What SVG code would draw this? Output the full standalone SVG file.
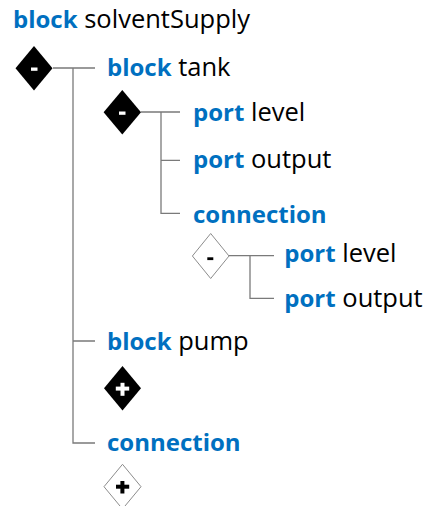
<svg xmlns="http://www.w3.org/2000/svg" width="425" height="506" viewBox="0 0 425 506">
<style>
text{font-family:"Open Sans","Liberation Sans",sans-serif;font-size:25.5px;fill:#000}
.k{fill:#0070C0;font-weight:bold;font-size:24px}
.ln{stroke:#7a7a7a;stroke-width:1.3;fill:none}
.df{fill:#000}
.do{fill:#fff;stroke:#8c8c8c;stroke-width:1}
.w{fill:#fff}
.b{fill:#000}
</style>
<rect width="425" height="506" fill="#fff"/>
<g id="connectors">
<path class="ln" d="M53 68H95M73 68V443H95M73 341H95"/>
<path class="ln" d="M141 112H180M161 112V213.3H180M161 160.3H180"/>
<path class="ln" d="M229 255.7H274M250 255.7V298.3H274"/>
</g>
<g id="solventSupply"><text x="13" y="28"><tspan class="k">block</tspan> solventSupply</text></g>
<g id="toggle1"><path class="df" d="M34 46L52.5 68.3L34 90.6L15.5 68.3Z"/><rect class="w" x="31" y="67.5" width="6.5" height="3.3"/></g>
<g id="tank"><text x="107" y="76"><tspan class="k">block</tspan> tank</text></g>
<g id="toggle2"><path class="df" d="M122.3 90L141 112.3L122.3 134.6L103.6 112.3Z"/><rect class="w" x="119" y="111.5" width="6.5" height="3.3"/></g>
<g id="tankLevel"><text x="193" y="120.5"><tspan class="k">port</tspan> level</text></g>
<g id="tankOutput"><text x="193" y="168.3"><tspan class="k">port</tspan> output</text></g>
<g id="tankConnection"><text x="193" y="223.3"><tspan class="k">connection</tspan></text></g>
<g id="toggle3"><path class="do" d="M210.7 233.5L229 256L210.7 278.5L192.4 256Z"/><rect class="b" x="207.3" y="257.3" width="6" height="2.8"/></g>
<g id="connLevel"><text x="284.3" y="261.7"><tspan class="k">port</tspan> level</text></g>
<g id="connOutput"><text x="284.3" y="306.7"><tspan class="k">port</tspan> output</text></g>
<g id="pump"><text x="107" y="350"><tspan class="k">block</tspan> pump</text></g>
<g id="toggle4"><path class="df" d="M122.5 366L141 388.3L122.5 410.6L104 388.3Z"/><rect class="w" x="115.8" y="386.6" width="13.4" height="4"/><rect class="w" x="120.5" y="382.8" width="4" height="13"/></g>
<g id="connection"><text x="107" y="450.7"><tspan class="k">connection</tspan></text></g>
<g id="toggle5"><path class="do" d="M122.5 464.3L141 486.7L122.5 509L104 486.7Z"/><rect class="b" x="116" y="484.7" width="13.2" height="4"/><rect class="b" x="120.4" y="481" width="4" height="12.5"/></g>
</svg>
